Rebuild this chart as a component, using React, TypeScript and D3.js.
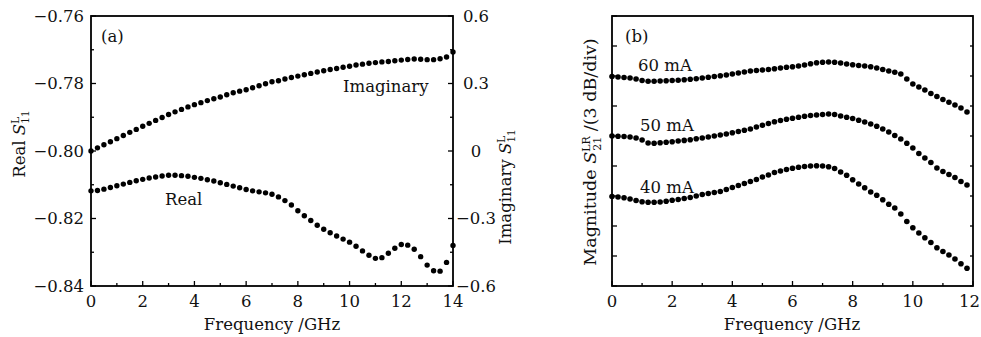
import React from 'react';
import * as d3 from 'd3';

// sweep grids (GHz)
const freqA = d3.range(0, 14.001, 0.25);
const freqB = d3.range(0, 11.801, 0.2);

// panel (a): Real S11 (left axis)
const realS11 = [
  -0.8118, -0.8117, -0.8113, -0.8108, -0.8103, -0.8098, -0.8093, -0.8088, -0.8084, -0.808,
  -0.8077, -0.8074, -0.8072, -0.8072, -0.8073, -0.8075, -0.8078, -0.8081, -0.8085, -0.8089,
  -0.8094, -0.8099, -0.8104, -0.8109, -0.8114, -0.8118, -0.8121, -0.8124, -0.8128, -0.8136,
  -0.8147, -0.816, -0.8177, -0.8192, -0.8206, -0.822, -0.8232, -0.8242, -0.8252, -0.8261,
  -0.827, -0.8282, -0.8296, -0.8309, -0.8318, -0.8316, -0.8303, -0.8288, -0.8277, -0.8279,
  -0.8291, -0.8313, -0.8338, -0.8355, -0.8356, -0.833, -0.828,
];
// panel (a): Imaginary S11 (right axis)
const imagS11 = [
  0, 0.014, 0.028, 0.041, 0.055, 0.069, 0.083, 0.096, 0.11, 0.123,
  0.136, 0.149, 0.162, 0.174, 0.185, 0.196, 0.206, 0.215, 0.224, 0.232,
  0.24, 0.25, 0.259, 0.266, 0.272, 0.281, 0.29, 0.299, 0.308, 0.312,
  0.32, 0.327, 0.333, 0.339, 0.345, 0.351, 0.357, 0.362, 0.367, 0.372,
  0.377, 0.382, 0.386, 0.39, 0.393, 0.396, 0.398, 0.401, 0.404, 0.407,
  0.409, 0.408, 0.406, 0.406, 0.41, 0.418, 0.44,
];

// panel (b): magnitude S21 in dB (3 dB/div, arbitrary offset)
const mag60 = [
  20.95, 20.9, 20.85, 20.8, 20.7, 20.55, 20.48, 20.48, 20.5, 20.52,
  20.55, 20.58, 20.62, 20.67, 20.73, 20.8, 20.87, 20.95, 21.02, 21.1,
  21.2, 21.3, 21.4, 21.5, 21.55, 21.6, 21.65, 21.72, 21.8, 21.87,
  21.93, 22.0, 22.1, 22.22, 22.32, 22.38, 22.4, 22.38, 22.3, 22.2,
  22.12, 22.05, 22.0, 21.92, 21.8, 21.65, 21.5, 21.38, 21.2, 20.7,
  20.2, 19.9, 19.6, 19.25, 18.95, 18.65, 18.38, 18.1, 17.8, 17.4,
];
const mag50 = [
  15.0, 14.98, 14.95, 14.9, 14.8, 14.6, 14.3, 14.28, 14.32, 14.38,
  14.43, 14.5, 14.56, 14.63, 14.72, 14.8, 14.9, 15.0, 15.1, 15.2,
  15.32, 15.45, 15.57, 15.7, 15.9, 16.08, 16.25, 16.42, 16.55, 16.67,
  16.77, 16.87, 16.97, 17.05, 17.1, 17.15, 17.2, 17.15, 17.0, 16.87,
  16.75, 16.57, 16.4, 16.2, 15.98, 15.7, 15.4, 15.05, 14.7, 14.27,
  13.8, 13.25, 12.8, 12.35, 11.8, 11.45, 11.15, 10.85, 10.45, 10.1,
];
const mag40 = [
  8.95, 8.9, 8.82, 8.7, 8.55, 8.43, 8.38, 8.37, 8.4, 8.47,
  8.57, 8.65, 8.75, 8.85, 9.0, 9.15, 9.25, 9.35, 9.45, 9.65,
  9.85, 10.05, 10.25, 10.45, 10.65, 10.9, 11.1, 11.35, 11.5, 11.65,
  11.77, 11.87, 11.95, 12.0, 12.02, 12.0, 11.93, 11.75, 11.4, 11.08,
  10.62, 10.2, 9.82, 9.4, 9.08, 8.62, 8.18, 7.8, 7.2, 6.45,
  5.82, 5.3, 4.82, 4.35, 3.82, 3.45, 3.1, 2.7, 2.22, 1.77,
];

const xTicksA = [0, 2, 4, 6, 8, 10, 12, 14];
const xTicksB = [0, 2, 4, 6, 8, 10, 12];
const leftTicksA = [-0.76, -0.78, -0.8, -0.82, -0.84];
const rightTicksA = [0.6, 0.3, 0, -0.3, -0.6];
const yTicksB = [0, 3, 6, 9, 12, 15, 18, 21, 24, 27];

const W = 981;
const H = 337;
const top = 16;
const bottom = 286;
const font = '"DejaVu Serif", serif';
const fs = 16.5;

const minus = (s: string) => s.replace('-', '\u2212');

const App = () => {
  const xA = d3.scaleLinear().domain([0, 14]).range([91, 453]);
  const yL = d3.scaleLinear().domain([-0.84, -0.76]).range([bottom, top]);
  const yR = d3.scaleLinear().domain([-0.6, 0.6]).range([bottom, top]);
  const xB = d3.scaleLinear().domain([0, 12]).range([612, 973]);
  const yB = d3.scaleLinear().domain([0, 27]).range([bottom, top]);

  const fmt2 = d3.format('.2f');
  const fmtR = (d: number) => (d === 0 ? '0' : minus(d3.format('.1f')(d)));

  const xMinorA = d3.range(1, 14, 2);
  const xMinorB = d3.range(1, 12, 2);
  const leftMinorA = d3.range(-0.83, -0.76, 0.02);
  const rightMinorA = d3.range(-0.45, 0.6, 0.3);

  return (
    <div style={{ position: 'fixed', left: 0, top: 0 }}>
      <svg width={W} height={H} viewBox={`0 0 ${W} ${H}`} fontFamily={font} fontSize={fs} fill="#111">
        <rect width={W} height={H} fill="#fff" />

        {/* ---------- panel (a) ---------- */}
        <g stroke="#000" strokeWidth={1.3}>
          {xTicksA.map(d => <line key={'xa' + d} x1={xA(d)} x2={xA(d)} y1={bottom} y2={bottom - 5} />)}
          {xMinorA.map(d => <line key={'xam' + d} x1={xA(d)} x2={xA(d)} y1={bottom} y2={bottom - 3} />)}
          {leftTicksA.map(d => <line key={'la' + d} x1={91} x2={96} y1={yL(d)} y2={yL(d)} />)}
          {leftMinorA.map(d => <line key={'lam' + d} x1={91} x2={94} y1={yL(d)} y2={yL(d)} />)}
          {rightTicksA.map(d => <line key={'ra' + d} x1={453} x2={448} y1={yR(d)} y2={yR(d)} />)}
          {rightMinorA.map(d => <line key={'ram' + d} x1={453} x2={450} y1={yR(d)} y2={yR(d)} />)}
        </g>
        <rect x={91} y={top} width={453 - 91} height={bottom - top} fill="none" stroke="#000" strokeWidth={1.8} />

        {xTicksA.map(d => (
          <text key={'xta' + d} x={xA(d)} y={306.5} textAnchor="middle">{d}</text>
        ))}
        {leftTicksA.map(d => (
          <text key={'lta' + d} x={84} y={yL(d)} dy="0.36em" textAnchor="end">{minus(fmt2(d))}</text>
        ))}
        {rightTicksA.map(d => (
          <text key={'rta' + d} x={476} y={yR(d)} dy="0.36em" textAnchor="middle">{fmtR(d)}</text>
        ))}
        <text x={272} y={330} textAnchor="middle">Frequency /GHz</text>
        <text transform="translate(25,144) rotate(-90)" textAnchor="middle">
          Real <tspan fontStyle="italic">S</tspan>
          <tspan fontSize={10.5} dy={-6}>L</tspan>
          <tspan fontSize={10.5} dx={-6.8} dy={10}>11</tspan>
        </text>
        <text transform="translate(511,187) rotate(-90)" textAnchor="middle">
          Imaginary <tspan fontStyle="italic">S</tspan>
          <tspan fontSize={10.5} dy={-6}>L</tspan>
          <tspan fontSize={10.5} dx={-6.8} dy={10}>11</tspan>
        </text>
        <text x={101} y={42}>(a)</text>
        <text x={343} y={92}>Imaginary</text>
        <text x={165} y={205}>Real</text>

        <g fill="#000">
          {realS11.map((v, i) => <circle key={'r' + i} cx={xA(freqA[i])} cy={yL(v)} r={2.7} />)}
          {imagS11.map((v, i) => <circle key={'im' + i} cx={xA(freqA[i])} cy={yR(v)} r={2.7} />)}
        </g>

        {/* ---------- panel (b) ---------- */}
        <g stroke="#000" strokeWidth={1.3}>
          {xTicksB.map(d => <line key={'xb' + d} x1={xB(d)} x2={xB(d)} y1={bottom} y2={bottom - 5} />)}
          {xMinorB.map(d => <line key={'xbm' + d} x1={xB(d)} x2={xB(d)} y1={bottom} y2={bottom - 3} />)}
          {yTicksB.map(d => <line key={'yb' + d} x1={612} x2={617} y1={yB(d)} y2={yB(d)} />)}
          {yTicksB.map(d => <line key={'ybr' + d} x1={973} x2={970} y1={yB(d)} y2={yB(d)} />)}
        </g>
        <rect x={612} y={top} width={973 - 612} height={bottom - top} fill="none" stroke="#000" strokeWidth={1.8} />

        {xTicksB.map(d => (
          <text key={'xtb' + d} x={d === 12 ? 980 : xB(d)} y={306.5} textAnchor={d === 12 ? 'end' : 'middle'}>{d}</text>
        ))}
        <text x={792} y={330} textAnchor="middle">Frequency /GHz</text>
        <text transform="translate(596,152) rotate(-90)" textAnchor="middle" fontSize={17.5}>
          Magnitude <tspan fontStyle="italic">S</tspan>
          <tspan fontSize={11} dy={-6}>LR</tspan>
          <tspan fontSize={11} dx={-14.5} dy={10.5}>21</tspan>
          <tspan dy={-4.5}> /(3 dB/div)</tspan>
        </text>
        <text x={625} y={42}>(b)</text>
        <text x={638} y={71}>60 mA</text>
        <text x={640} y={131}>50 mA</text>
        <text x={640} y={193}>40 mA</text>

        <g fill="#000">
          {[mag60, mag50, mag40].map((s, k) =>
            s.map((v, i) => <circle key={'b' + k + '-' + i} cx={xB(freqB[i])} cy={yB(v)} r={2.8} />)
          )}
        </g>
      </svg>
    </div>
  );
};

export default App;
